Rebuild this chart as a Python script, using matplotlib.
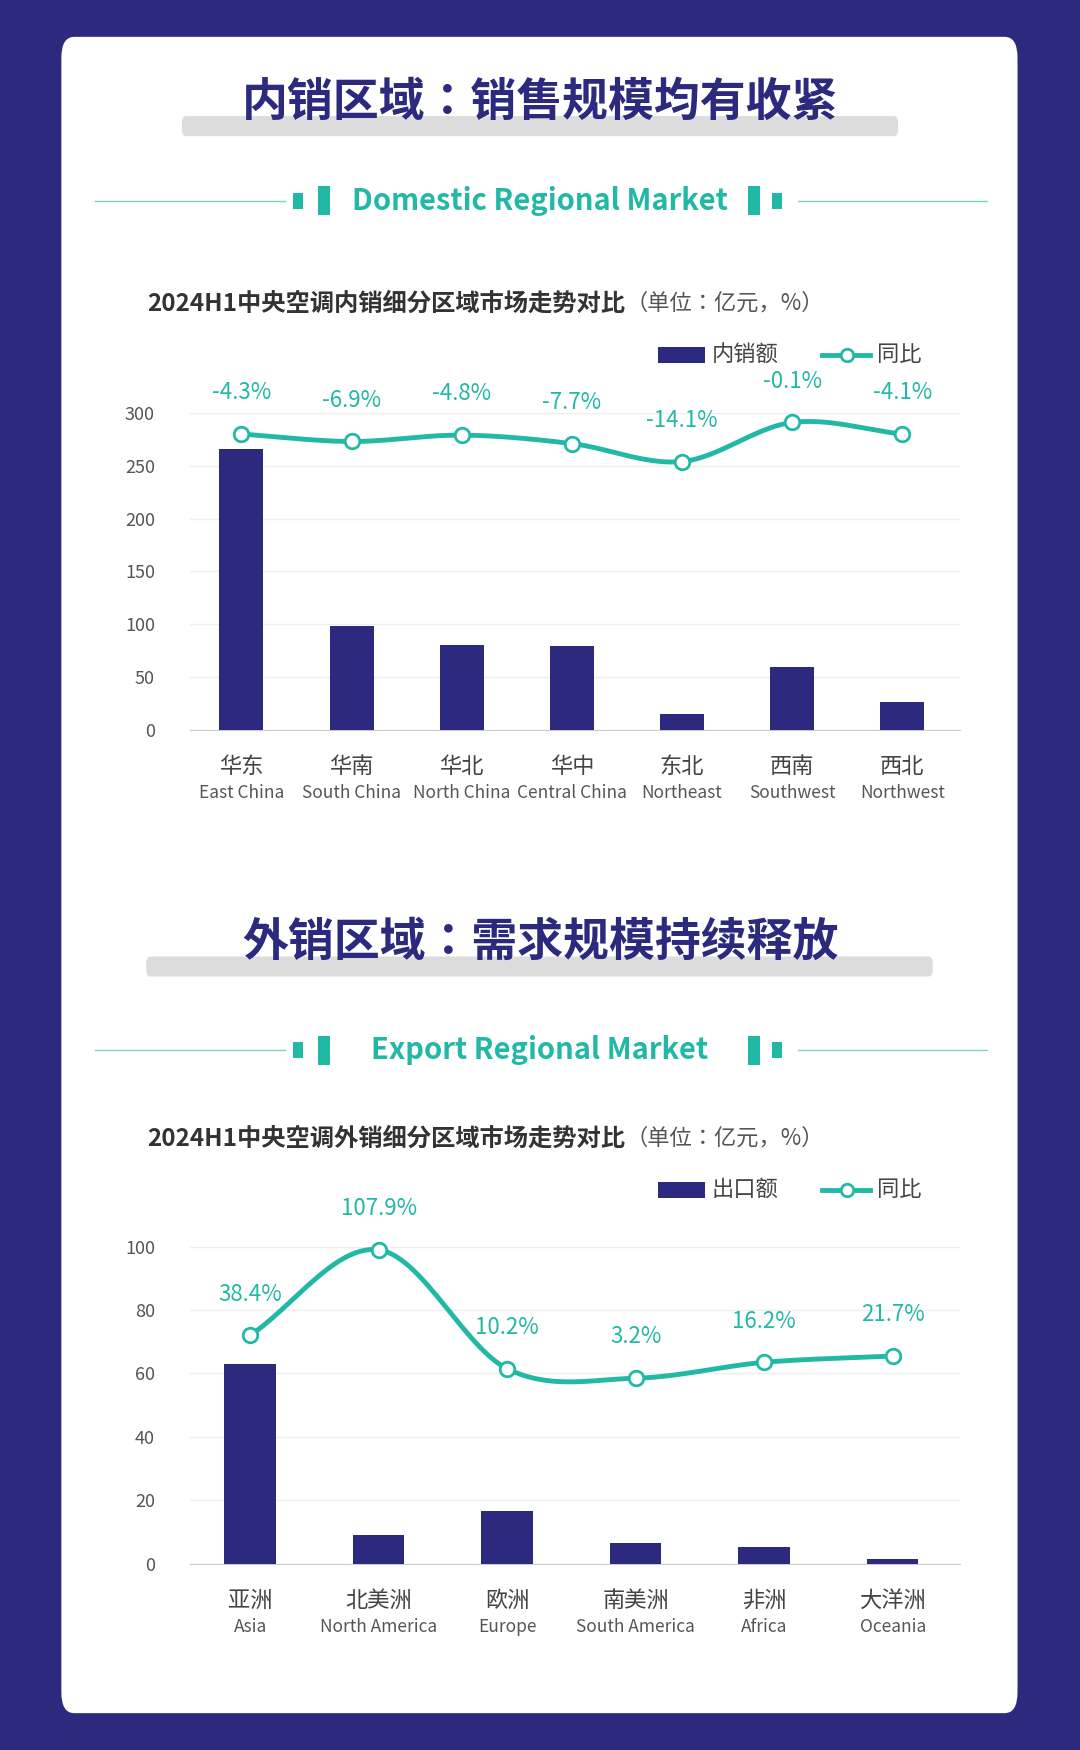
import matplotlib.pyplot as plt
import numpy as np
from matplotlib.patches import FancyBboxPatch, Rectangle
from matplotlib import font_manager

names = {f.name for f in font_manager.fontManager.ttflist}
cjk = [n for n in ["Noto Sans CJK SC", "Noto Sans CJK JP", "Noto Sans CJK TC", "Noto Sans CJK KR"] if n in names]
plt.rcParams["font.family"] = cjk[:1] + ["DejaVu Sans"]

NAVY = "#2b2a7e"
TEAL = "#22b8a6"

# --- data ---
dom_cn = ["华东", "华南", "华北", "华中", "东北", "西南", "西北"]
dom_en = ["East China", "South China", "North China", "Central China", "Northeast", "Southwest", "Northwest"]
dom_sales = [266, 98, 80, 79, 15, 60, 26]
dom_line = [280, 273, 279, 271, 254, 291, 280]
dom_yoy = ["-4.3%", "-6.9%", "-4.8%", "-7.7%", "-14.1%", "-0.1%", "-4.1%"]

exp_cn = ["亚洲", "北美洲", "欧洲", "南美洲", "非洲", "大洋洲"]
exp_en = ["Asia", "North America", "Europe", "South America", "Africa", "Oceania"]
exp_sales = [63, 9, 16.5, 6.5, 5.3, 1.5]
exp_line = [72, 99, 61.5, 58.5, 63.5, 65.5]
exp_yoy = ["38.4%", "107.9%", "10.2%", "3.2%", "16.2%", "21.7%"]

W, H = 968, 1568


def fx(x):
    return x / W


def fy(y):
    return 1 - y / H


def smooth(xs, ys, n=30):
    # Catmull-Rom curve through the points (rendering only)
    P = np.column_stack([xs, ys]).astype(float)
    P = np.vstack([2 * P[0] - P[1], P, 2 * P[-1] - P[-2]])
    out = []
    t = np.linspace(0, 1, n)[:, None]
    for i in range(1, len(P) - 2):
        p0, p1, p2, p3 = P[i - 1], P[i], P[i + 1], P[i + 2]
        c = 0.5 * ((2 * p1) + (-p0 + p2) * t + (2 * p0 - 5 * p1 + 4 * p2 - p3) * t ** 2
                   + (-p0 + 3 * p1 - 3 * p2 + p3) * t ** 3)
        out.append(c)
    c = np.vstack(out)
    return c[:, 0], c[:, 1]


fig = plt.figure(figsize=(10.8, 17.5), dpi=100)
fig.patch.set_facecolor(NAVY)
fig.patches.append(FancyBboxPatch((fx(55), fy(1535)), fx(857), (1535 - 33) / H,
                                  boxstyle="round,pad=0,rounding_size=0.012",
                                  transform=fig.transFigure, fc="white", ec="none", zorder=-10))


def header(y_title, title, x_bar, y_sub, sub, sub_l, sub_r):
    fig.patches.append(FancyBboxPatch((fx(x_bar[0]), fy(y_title + 30)), fx(x_bar[1] - x_bar[0]), 18 / H,
                                      boxstyle="round,pad=0,rounding_size=0.004",
                                      transform=fig.transFigure, fc="#dcdcdc", ec="none", zorder=-5))
    fig.text(0.5, fy(y_title), title, ha="center", va="center", fontsize=33,
             fontweight="bold", color=NAVY)
    fig.text(0.5, fy(y_sub), sub, ha="center", va="center", fontsize=21,
             fontweight="bold", color=TEAL)
    for x0, x1 in [(85, 255), (715, 885)]:
        fig.add_artist(plt.Line2D([fx(x0), fx(x1)], [fy(y_sub)] * 2, color=TEAL, lw=1, alpha=0.6))
    for x, w, h in [(sub_l, 9, 14), (sub_l + 22, 11, 26), (sub_r - 22, 11, 26), (sub_r, 9, 14)]:
        fig.patches.append(Rectangle((fx(x), fy(y_sub + h / 2)), fx(w), h / H,
                                     transform=fig.transFigure, fc=TEAL, ec="none"))


def chart(rect, y_ctitle, ctitle, unit, cn, en, sales, line, yoy, ylim, step):
    t = fig.text(fx(132), fy(y_ctitle), ctitle, ha="left", va="center", fontsize=17.5,
                 fontweight="bold", color="#333333")
    fig.canvas.draw()
    bb = t.get_window_extent().transformed(fig.transFigure.inverted())
    fig.text(bb.x1, fy(y_ctitle), unit, ha="left", va="center", fontsize=16, color="#555555")
    ax = fig.add_axes(rect)
    ax.patch.set_alpha(0)
    x = np.arange(len(cn))
    ax.bar(x, sales, width=0.4, color=NAVY, zorder=3)
    sx, sy = smooth(x, line)
    ax.plot(sx, sy, color=TEAL, lw=3.5, zorder=4, clip_on=False)
    ax.scatter(x, line, s=110, facecolor="white", edgecolor=TEAL, linewidth=2, zorder=5, clip_on=False)
    off = ylim * 0.13
    for xi, yi, lab in zip(x, line, yoy):
        ax.text(xi, yi + off, lab, ha="center", va="center", fontsize=16, color=TEAL)
    ax.set_xlim(-0.47, len(cn) - 0.48)
    ax.set_ylim(0, ylim)
    ax.set_yticks(np.arange(0, ylim + 1, step))
    ax.tick_params(axis="y", length=0, labelsize=13, labelcolor="#555555", pad=25)
    ax.set_xticks(x)
    ax.set_xticklabels([])
    ax.tick_params(axis="x", length=0)
    for xi, c, e in zip(x, cn, en):
        ax.text(xi, -ylim * 0.115, c, ha="center", va="center", fontsize=16, color="#444444")
        ax.text(xi, -ylim * 0.2, e, ha="center", va="center", fontsize=12.5, color="#555555")
    ax.grid(axis="y", color="#eeeeee", lw=1, zorder=0)
    for s in ["top", "right", "left"]:
        ax.spines[s].set_visible(False)
    ax.spines["bottom"].set_color("#cccccc")
    return ax


header(92, "内销区域：销售规模均有收紧", (163, 805), 180, "Domestic Regional Market", 263, 692)
chart([fx(170), fy(654), fx(690), 284 / H], 272,
      "2024H1中央空调内销细分区域市场走势对比", "（单位：亿元，%）",
      dom_cn, dom_en, dom_sales, dom_line, dom_yoy, 300, 50)
header(845, "外销区域：需求规模持续释放", (131, 836), 941, "Export Regional Market", 263, 692)
chart([fx(170), fy(1401), fx(690), 284 / H], 1020,
      "2024H1中央空调外销细分区域市场走势对比", "（单位：亿元，%）",
      exp_cn, exp_en, exp_sales, exp_line, exp_yoy, 100, 20)

# legends
for y, name in [(318, "内销额"), (1066, "出口额")]:
    fig.patches.append(Rectangle((fx(590), fy(y + 7)), fx(42), 14 / H,
                                 transform=fig.transFigure, fc=NAVY, ec="none"))
    fig.text(fx(638), fy(y), name, ha="left", va="center", fontsize=16, color="#444444")
    fig.add_artist(plt.Line2D([fx(737), fx(780)], [fy(y)] * 2, color=TEAL, lw=3.5))
    fig.add_artist(plt.Line2D([fx(759)], [fy(y)], marker="o", ms=9, mfc="white", mec=TEAL, mew=2))
    fig.text(fx(786), fy(y), "同比", ha="left", va="center", fontsize=16, color="#444444")

fig.savefig("out.png", dpi=100, facecolor=NAVY)
